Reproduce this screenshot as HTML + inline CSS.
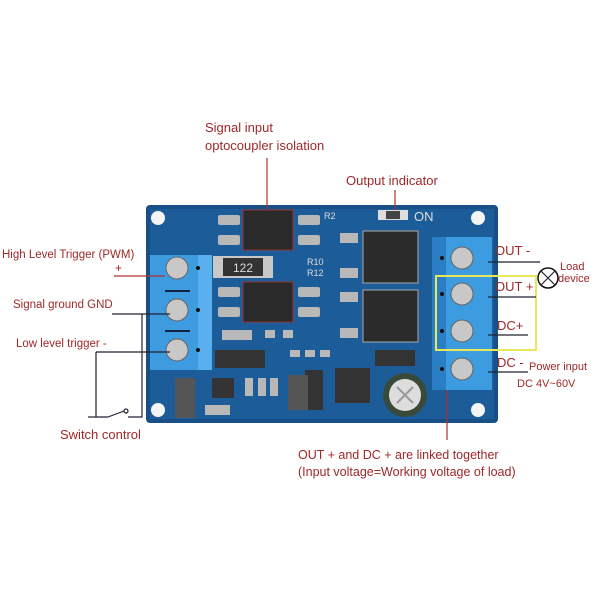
<!DOCTYPE html>
<html><head><style>
body{margin:0;background:#fff;}
svg{display:block;font-family:"Liberation Sans",sans-serif;}
</style></head><body>
<svg width="600" height="600" viewBox="0 0 600 600">
<rect x="146" y="205" width="352" height="218" rx="4" fill="#174f86"/>
<rect x="150" y="209" width="344" height="210" fill="#1c5c98"/>
<circle cx="158" cy="218" r="7" fill="#f4f4f4"/><circle cx="478" cy="218" r="7" fill="#f4f4f4"/>
<circle cx="158" cy="410" r="7" fill="#f4f4f4"/><circle cx="478" cy="410" r="7" fill="#f4f4f4"/>
<g fill="#b8b8b8"><rect x="218" y="215" width="22" height="10" rx="2"/><rect x="218" y="235" width="22" height="10" rx="2"/>
<rect x="298" y="215" width="22" height="10" rx="2"/><rect x="298" y="235" width="22" height="10" rx="2"/>
<rect x="218" y="287" width="22" height="10" rx="2"/><rect x="218" y="307" width="22" height="10" rx="2"/>
<rect x="298" y="287" width="22" height="10" rx="2"/><rect x="298" y="307" width="22" height="10" rx="2"/>
<rect x="222" y="330" width="30" height="10"/><rect x="265" y="330" width="10" height="8"/><rect x="283" y="330" width="10" height="8"/>
<rect x="290" y="350" width="10" height="7"/><rect x="305" y="350" width="10" height="7"/><rect x="320" y="350" width="10" height="7"/>
<rect x="245" y="378" width="8" height="18"/><rect x="258" y="378" width="8" height="18"/><rect x="270" y="378" width="8" height="18"/>
<rect x="205" y="405" width="25" height="10"/><rect x="130" y="0" width="0" height="0"/></g>
<rect x="243" y="210" width="50" height="40" fill="#2a2a2a" stroke="#9a3030"/>
<rect x="243" y="282" width="50" height="40" fill="#2a2a2a" stroke="#9a3030"/>
<rect x="213" y="256" width="60" height="22" fill="#c8c8c8"/><rect x="223" y="258" width="40" height="18" fill="#333"/>
<text x="243" y="272" font-size="12" fill="#ddd" text-anchor="middle">122</text>
<rect x="340" y="233" width="18" height="10" fill="#b8b8b8"/><rect x="340" y="268" width="18" height="10" fill="#b8b8b8"/>
<rect x="340" y="292" width="18" height="10" fill="#b8b8b8"/><rect x="340" y="328" width="18" height="10" fill="#b8b8b8"/>
<rect x="363" y="231" width="55" height="52" fill="#2b2b2b" stroke="#aaa"/>
<rect x="363" y="290" width="55" height="52" fill="#2b2b2b" stroke="#aaa"/>
<rect x="378" y="210" width="30" height="10" fill="#ddd"/><rect x="386" y="211" width="14" height="8" fill="#444"/>
<text x="414" y="221" font-size="13" fill="#ddd">ON</text>
<text x="324" y="219" font-size="9" fill="#ddd">R2</text>
<text x="307" y="265" font-size="9" fill="#ddd">R10</text><text x="307" y="276" font-size="9" fill="#ddd">R12</text>
<g fill="#333"><rect x="215" y="350" width="50" height="18"/><rect x="375" y="350" width="40" height="16"/>
<rect x="335" y="368" width="35" height="35"/><rect x="305" y="370" width="18" height="40"/><rect x="212" y="378" width="22" height="20"/></g>
<rect x="288" y="375" width="20" height="35" fill="#555"/><rect x="175" y="378" width="20" height="40" fill="#555"/>
<circle cx="405" cy="395" r="22" fill="#3a4a3a"/><circle cx="405" cy="395" r="16" fill="#ddd"/>
<path d="M397 387L413 403M413 387L397 403" stroke="#999" stroke-width="2"/>
<rect x="150" y="255" width="48" height="115" fill="#3d9be0"/><rect x="198" y="255" width="14" height="115" fill="#5ab0ee"/>
<g fill="#c8c8c8" stroke="#666"><circle cx="177" cy="268" r="11"/><circle cx="177" cy="310" r="11"/><circle cx="177" cy="350" r="11"/></g>
<rect x="165" y="290" width="25" height="2" fill="#124"/><rect x="165" y="330" width="25" height="2" fill="#124"/>
<g fill="#111"><circle cx="198" cy="268" r="2"/><circle cx="198" cy="310" r="2"/><circle cx="198" cy="350" r="2"/></g>
<rect x="432" y="237" width="14" height="153" fill="#2a7ec4"/><rect x="446" y="237" width="46" height="153" fill="#3d9be0"/>
<g fill="#c8c8c8" stroke="#666"><circle cx="462" cy="258" r="11"/><circle cx="462" cy="294" r="11"/><circle cx="462" cy="331" r="11"/><circle cx="462" cy="369" r="11"/></g>
<g fill="#111"><circle cx="442" cy="258" r="2"/><circle cx="442" cy="294" r="2"/><circle cx="442" cy="331" r="2"/><circle cx="442" cy="369" r="2"/></g>
<rect x="436" y="276" width="100" height="74" fill="none" stroke="#e8e85a" stroke-width="2"/>
<g stroke="#b03030" stroke-width="1.2"><line x1="267" y1="158" x2="267" y2="210"/><line x1="395" y1="190" x2="395" y2="210"/>
<line x1="447" y1="390" x2="447" y2="440"/><line x1="114" y1="276" x2="165" y2="276"/></g>
<g stroke="#223" stroke-width="1.2" fill="none">
<line x1="112" y1="314" x2="170" y2="314"/><line x1="96" y1="352" x2="170" y2="352"/>
<polyline points="142,314 142,417 128,417"/><polyline points="96,352 96,417 108,417"/>
<line x1="88" y1="417" x2="96" y2="417"/>
<line x1="488" y1="262" x2="540" y2="262"/><line x1="488" y1="297" x2="536" y2="297"/>
<line x1="488" y1="335" x2="528" y2="335"/><line x1="488" y1="372" x2="528" y2="372"/>
<circle cx="548" cy="278" r="10" stroke="#111" stroke-width="1.5"/>
<path d="M541 271L555 285M555 271L541 285"/>
<path d="M108 417L124 411" /><circle cx="126" cy="411" r="2"/>
</g>
<g fill="#a02828">
<text x="205" y="132" font-size="13">Signal input</text>
<text x="205" y="150" font-size="13">optocoupler isolation</text>
<text x="346" y="185" font-size="13">Output indicator</text>
<text x="2" y="258" font-size="11.5">High Level Trigger (PWM)</text>
<text x="115" y="272" font-size="12">+</text>
<text x="13" y="308" font-size="11.5">Signal ground GND</text>
<text x="16" y="347" font-size="11.5">Low level trigger  -</text>
<text x="60" y="439" font-size="13">Switch control</text>
<text x="495" y="255" font-size="13">OUT -</text>
<text x="495" y="291" font-size="13">OUT +</text>
<text x="497" y="330" font-size="13">DC+</text>
<text x="497" y="367" font-size="13">DC -</text>
<text x="560" y="270" font-size="11">Load</text>
<text x="558" y="282" font-size="11">device</text>
<text x="529" y="370" font-size="11">Power input</text>
<text x="517" y="387" font-size="11">DC 4V~60V</text>
<text x="298" y="459" font-size="12.5">OUT + and DC + are linked together</text>
<text x="298" y="476" font-size="12.5">(Input voltage=Working voltage of load)</text>
</g>
</svg>
</body></html>
